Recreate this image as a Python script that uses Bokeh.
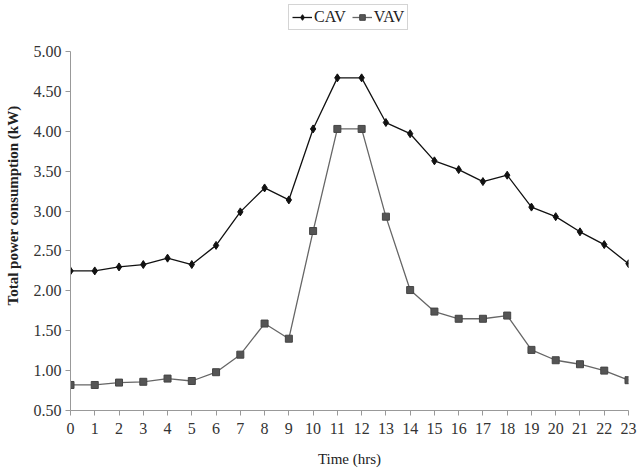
from bokeh.plotting import figure
from bokeh.models import FixedTicker, NumeralTickFormatter, Legend, LegendItem, Range1d
from bokeh.embed import file_html
from bokeh.resources import INLINE

hours = list(range(24))
cav = [2.25, 2.25, 2.30, 2.33, 2.41, 2.33, 2.57, 2.99, 3.29, 3.14, 4.03, 4.67,
       4.67, 4.11, 3.97, 3.63, 3.52, 3.37, 3.45, 3.05, 2.93, 2.74, 2.58, 2.34]
vav = [0.82, 0.82, 0.85, 0.86, 0.90, 0.87, 0.98, 1.20, 1.59, 1.40, 2.75, 4.03,
       4.03, 2.93, 2.01, 1.74, 1.65, 1.65, 1.69, 1.26, 1.13, 1.08, 1.00, 0.88]
y_ticks = [0.5, 1.0, 1.5, 2.0, 2.5, 3.0, 3.5, 4.0, 4.5, 5.0]

FONT = "Liberation Serif"

p = figure(width=639, height=470, output_backend="svg", toolbar_location=None,
           x_range=Range1d(0, 23), y_range=Range1d(0.5, 5.64),
           min_border_left=70, min_border_right=11, min_border_top=0, min_border_bottom=60)
p.outline_line_color = None
p.xgrid.grid_line_color = None
p.ygrid.grid_line_color = None

l1 = p.line(hours, cav, line_color="#111111", line_width=1.3)
m1 = p.scatter(hours, cav, marker="diamond", size=8, fill_color="#111111", line_color="#111111")
l2 = p.line(hours, vav, line_color="#666666", line_width=1.3)
m2 = p.scatter(hours, vav, marker="square", size=7, fill_color="#555555", line_color="#444444")

for ax in (p.xaxis[0], p.yaxis[0]):
    ax.axis_line_color = "#999999"
    ax.major_tick_line_color = "#999999"
    ax.minor_tick_line_color = None
    ax.major_tick_in = 0
    ax.major_tick_out = 5
    ax.major_label_text_font = FONT
    ax.major_label_text_font_size = "16px"
    ax.major_label_text_color = "#333333"
    ax.axis_label_text_font = FONT
    ax.axis_label_text_color = "#222222"
    ax.axis_label_text_font_size = "15px"

p.xaxis.ticker = FixedTicker(ticks=hours)
p.yaxis.ticker = FixedTicker(ticks=y_ticks)
p.yaxis.bounds = (0.5, 5.0)
p.yaxis.formatter = NumeralTickFormatter(format="0.00")
p.xaxis.axis_label = "Time (hrs)"
p.xaxis.axis_label_text_font_style = "normal"
p.xaxis.axis_label_standoff = 14
p.yaxis.axis_label = "Total power consumption (kW)"
p.yaxis.axis_label_text_font_style = "bold"
p.yaxis.axis_label_standoff = 10
p.xaxis.major_label_standoff = 7
p.yaxis.major_label_standoff = 4

legend = Legend(items=[LegendItem(label="CAV", renderers=[l1, m1]),
                       LegendItem(label="VAV", renderers=[l2, m2])],
                orientation="horizontal", location=(218, 380),
                label_text_font=FONT, label_text_font_size="16px",
                label_text_color="#222222",
                border_line_color="#aaaaaa", background_fill_alpha=1.0,
                glyph_width=20, glyph_height=14, spacing=6, padding=3,
                label_standoff=2, margin=0)
p.add_layout(legend, "center")

open("out.html", "w").write(file_html(p, INLINE))
